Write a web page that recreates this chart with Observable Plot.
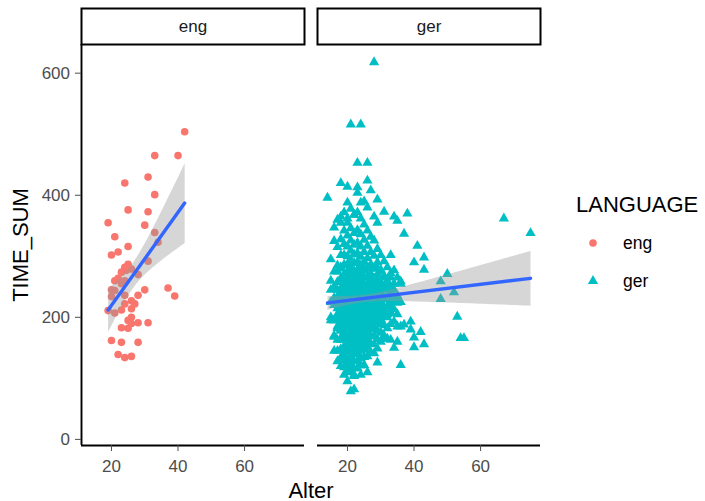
<!DOCTYPE html>
<html><head><meta charset="utf-8">
<script src="https://cdn.jsdelivr.net/npm/d3@7"></script>
<script src="https://cdn.jsdelivr.net/npm/@observablehq/plot@0.6"></script>
<style>
body{margin:0;background:#fff}
#wrap{position:relative;width:705px;height:501px;font-family:"Liberation Sans",Arial,sans-serif}
</style>
</head><body><div id="wrap"></div>
<script>
const languages = ["eng", "ger"];
const colors = ["#F8766D", "#00BFC4"];
const symbols = ["circle", "triangle"];
const xTicks = [20, 40, 60];
const yTicks = [0, 200, 400, 600];
const xDomain = [11, 78];
const yDomain = [-10, 647];

// eng: [Alter, TIME_SUM]
const engPoints = [
  [42,504],[33,465],[40,465],[31,430],[24,420],[33,401],[25,376],[31,373],[19,355],[30,351],
  [33,339],[21,332],[34,323],[25,316],[22,307],[20,302],[31,292],[25,287],[24,282],[26,279],
  [23,274],[28,270],[24.5,277],[21,260],[22,264],[24,260],[23,255],[20,245],[21,244],[30,245],
  [37,248],[39,235],[20,234],[24,236],[28,236],[26,227],[27,222],[19,211],[21,207],[23,212],
  [24,222],[26,214],[26,200],[25,195],[28,191],[31,191],[23,183],[25,182],[26,190],[20,162],
  [23,159],[28,159],[22,139],[24,134],[26,136]
];

// ger dense core: [Alter, list of TIME_SUM values]
const gerColumns = [
  [15, [295,245,200]],
  [16, [325,275,232,195,168,145]],
  [17, [360,315,285,258,234,215,198,182,163,145,128]],
  [18, [355,328,302,282,264,247,232,219,206,192,178,163,148,134,120]],
  [19, [372,342,320,302,286,271,258,246,235,224,214,204,194,184,174,163,152,141,130,118,106]],
  [20, [388,355,334,316,300,287,275,263,252,242,232,223,214,205,196,188,179,170,161,151,141,131,120,110]],
  [21, [378,346,326,309,294,281,269,258,247,237,228,219,210,201,192,183,174,165,155,145,134,123,112]],
  [22, [368,338,319,303,289,276,265,254,244,234,225,216,207,198,189,180,171,161,151,140,128,116,104]],
  [23, [372,343,322,305,291,278,266,255,245,235,226,217,208,199,190,181,172,162,152,141,129,117]],
  [24, [362,336,316,299,285,272,261,250,240,230,221,212,203,194,185,176,166,156,145,133,121]],
  [25, [352,327,307,291,277,265,254,243,233,223,214,205,196,187,178,168,158,147,135,122]],
  [26, [342,317,297,280,266,253,241,230,220,210,201,192,183,173,162,150,136]],
  [27, [332,307,287,271,257,244,232,221,210,200,190,180,169,157,143]],
  [28, [326,301,281,264,250,237,225,214,203,192,181,169,156,141]],
  [29, [312,290,270,254,240,227,215,203,191,178,164,149]],
  [30, [302,278,258,242,228,215,202,189,175,160]],
  [31, [292,268,248,232,217,202,187,170]],
  [32, [282,255,236,218,200,182,165]],
  [33, [272,248,228,208,189]],
  [34, [255,233,213,193]]
];

// ger core, second layer of overlapping points
const gerColumns2 = [
  [15, [260,225,195]],
  [16, [250,220,195,170]],
  [17, [275,245,225,205,185]],
  [18, [280,260,242,226,210,195,180,165]],
  [19, [285,268,252,238,225,212,200,188,176,164]],
  [20, [272,258,246,235,225,216,207,198,189,180,171,162,152,140,128]],
  [21, [275,262,250,240,230,220,211,202,193,184,175,166,156,145,133]],
  [22, [270,258,247,237,227,218,209,200,191,182,173,163,153,142]],
  [23, [273,261,250,240,231,222,213,204,195,186,176,166,155]],
  [24, [275,262,251,241,232,223,214,205,196,186,176,165]],
  [25, [280,265,252,240,229,219,209,199,188,176]],
  [26, [282,267,253,241,230,220,210,199,187]],
  [27, [280,264,250,238,226,215,204,192]],
  [28, [280,263,248,235,223,211,198]],
  [29, [280,262,247,234,222,209]],
  [30, [275,255,239,225,211,197]],
  [31, [265,250,230,210]],
  [32, [260,245,217,205]],
  [33, [265,237,207]],
  [34, [245,225,150]],
  [35, [265,235,205,185,160]],
  [36, [255,225,185]]
];

// ger scattered points: [Alter, TIME_SUM]
const gerOutliers = [
  [28,618],[21,516],[24,516],[23,453],[26,453],[26,424],[18,420],[20,414],[23,413],[27,408],
  [23,404],[14,396],[29,393],[24,388],[25,390],[26,380],[31,373],[38,370],[34,365],[35,358],
  [28,365],[22,368],[18,365],[20,362],[29,355],[16,347],[37,337],[67,362],[75,338],[41,317],
  [33,302],[43,298],[40,290],[43,278],[34,277],[50,271],[48,259],[36,259],[52,241],[48,230],
  [33,249],[35,224],[33,218],[53,201],[37,188],[39,193],[39,180],[42,176],[40,167],[43,156],
  [40,151],[54,166],[55,166],[36,122],[33,163],[29,126],[26,110],[24,106],[22,106],[20,95],
  [21,79],[22,82],[31,165],[30,175]
];

const data = [];
for (const [a, t] of engPoints) data.push({LANGUAGE: "eng", Alter: a, TIME_SUM: t});
for (const cols of [gerColumns, gerColumns2])
  for (const [a, ts] of cols) for (const t of ts) data.push({LANGUAGE: "ger", Alter: a, TIME_SUM: t});
for (const [a, t] of gerOutliers) data.push({LANGUAGE: "ger", Alter: a, TIME_SUM: t});

const font = "Liberation Sans, Arial, sans-serif";
const dotR = 3.8;

const chart = Plot.plot({
  width: 705, height: 501,
  marginLeft: 80, marginRight: 165, marginTop: 44, marginBottom: 56,
  style: {fontFamily: font, background: "white", overflow: "visible"},
  x: {domain: xDomain},
  y: {domain: yDomain},
  fx: {domain: languages, paddingInner: 0.0566, paddingOuter: 0, axis: null, label: null},
  color: {domain: languages, range: colors},
  symbol: {domain: languages, range: symbols},
  marks: [
    Plot.frame({stroke: "black", strokeWidth: 2, fill: "white", insetTop: -36, insetBottom: 401}),
    Plot.text(languages, {fx: d => d, text: d => d, frameAnchor: "top", lineAnchor: "middle", dy: -18, fontSize: 17, fill: "#1A1A1A"}),
    Plot.dot(data, {x: "Alter", y: "TIME_SUM", fx: "LANGUAGE", fill: "LANGUAGE", symbol: "LANGUAGE", r: dotR}),
    Plot.linearRegressionY(data, {x: "Alter", y: "TIME_SUM", fx: "LANGUAGE", stroke: "#3366FF", strokeWidth: 3.4, fill: "#999999", fillOpacity: 0.4, ci: 0.95}),
    Plot.ruleY([yDomain[0]], {stroke: "black", strokeWidth: 1.9}),
    Plot.ruleX([xDomain[0]], {fx: () => "eng", stroke: "black", strokeWidth: 1.9}),
    Plot.axisX({ticks: xTicks, tickSize: 6, tickPadding: 8, fontSize: 17, color: "#4D4D4D", label: null}),
    Plot.axisY({ticks: yTicks, tickSize: 6, tickPadding: 5.5, fontSize: 17, color: "#4D4D4D", label: null}),
    Plot.text(["Alter"], {facet: "super", frameAnchor: "bottom", lineAnchor: "middle", dy: 45, fontSize: 22, fill: "black"}),
    Plot.text(["TIME_SUM"], {facet: "super", frameAnchor: "left", textAnchor: "middle", lineAnchor: "middle", rotate: -90, dx: -61, fontSize: 22, fill: "black"})
  ]
});
const wrap = document.getElementById("wrap");
wrap.appendChild(chart);

// legend
const leg = d3.select(wrap).append("svg")
  .attr("width", 705).attr("height", 501)
  .style("position", "absolute").style("left", "0px").style("top", "0px")
  .style("font-family", font);
leg.append("text").attr("x", 576).attr("y", 212).attr("font-size", 22).attr("fill", "black").text("LANGUAGE");
languages.forEach((l, i) => {
  const cy = 243 + i * 38;
  const sym = symbols[i] === "circle" ? d3.symbolCircle : d3.symbolTriangle;
  leg.append("path")
    .attr("d", d3.symbol(sym, dotR * dotR * Math.PI)())
    .attr("transform", `translate(593,${cy})`)
    .attr("fill", colors[i]);
  leg.append("text").attr("x", 623).attr("y", cy).attr("dy", "0.35em")
    .attr("font-size", 17.5).attr("fill", "black").text(l);
});
</script>
</body></html>
